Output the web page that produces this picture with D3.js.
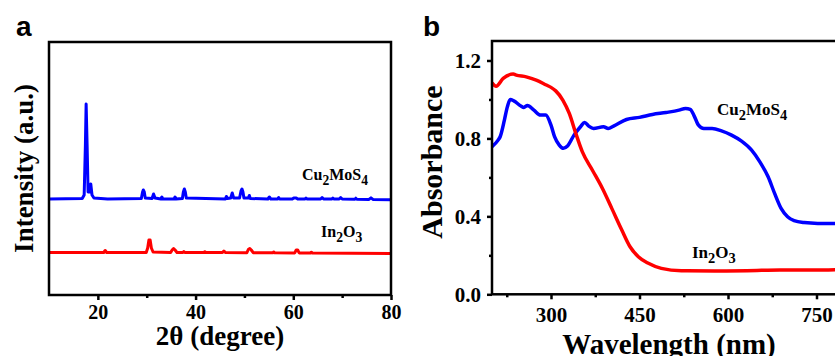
<!DOCTYPE html>
<html>
<head>
<meta charset="utf-8">
<script src="https://cdnjs.cloudflare.com/ajax/libs/d3/7.8.5/d3.min.js"></script>
<style>
body{margin:0;background:#fff;overflow:hidden;}
text{font-family:"Liberation Serif","Times New Roman",serif;font-weight:bold;fill:#000;}
.tick line{stroke:#000;stroke-width:2.5;}
</style>
</head>
<body>
<div id="chart"></div>
<script>
// panel a - XRD patterns, [2theta, intensity a.u.] (offset traces)
var xrd_cu2mos4 = [[10,96],[16.8,96.5],[17.2,100],[17.45,150],[17.6,191],[17.8,150],[18.0,103],[18.3,103],
  [18.55,111],[18.8,100],[19.2,97],[22,96],[28.9,96.5],[29.15,103],[29.3,105],[29.5,103],[29.7,97],
  [31.1,96.5],[31.4,101],[31.7,97],[32.9,96],[33.1,98],[33.3,96],[35.6,96],[35.8,98],[36,96],
  [37.3,96.5],[37.5,103],[37.7,106],[37.9,103],[38.1,97],[46.1,96],[46.3,98.5],[46.5,96.5],
  [47.2,97],[47.5,102],[47.8,97],[49.0,97],[49.3,104],[49.5,106],[49.7,103],[49.9,97],
  [50.8,97],[51.0,99.5],[51.2,96.5],[54.8,96],[55.1,98],[55.4,96],[56.8,96],[57.0,97.5],[57.2,96],
  [59.8,96],[60.1,97],[60.6,97],[60.9,96],[62.4,96],[62.6,97],[62.8,96],[65.6,96],[65.9,97.5],
  [66.2,96],[67.9,96],[68.1,97],[68.3,96],[69.4,96],[69.7,97.5],[70,96],[72.6,95.8],[72.8,96.8],
  [73,95.8],[75.5,95.6],[75.9,97.2],[76.3,95.6],[80,95.3]];
var xrd_in2o3 = [[10,42.5],[21.2,42.5],[21.5,44.5],[21.8,42.5],[29.9,42.5],[30.2,47],[30.45,55],
  [30.7,55],[30.95,47],[31.3,43],[34.9,42.5],[35.2,45],[35.5,46.5],[35.8,45],[36.2,42.5],
  [37.4,42.5],[37.6,43.5],[37.8,42.5],[41.7,42.4],[41.9,43.3],[42.1,42.4],[45.5,42.4],[45.8,44],
  [46.1,42.4],[50.5,42.3],[50.8,45.5],[51.1,46.5],[51.4,45],[51.8,42.3],[55.8,42.2],[56,43],
  [56.2,42.2],[60.3,42.1],[60.6,45],[60.9,45],[61.2,42.1],[63.5,42],[63.7,42.8],[63.9,42],[80,41.5]];
var xrd_ticks = [20,40,60,80];
var xrd_minor = [30,50,70];

// panel b - UV-vis absorbance, [wavelength nm, absorbance]
var uv_cu2mos4 = [[200,0.757],[210,0.79],[214,0.81],[221,0.894],[226,0.962],[231,1.0],[237,0.993],
  [249,0.966],[254,0.959],[260,0.969],[271,0.945],[282,0.92],[291,0.92],[300,0.868],[306,0.809],
  [314,0.766],[321,0.749],[328,0.761],[339,0.817],[350,0.86],[357,0.882],[364,0.863],[372,0.851],
  [389,0.86],[397,0.851],[406,0.863],[428,0.897],[450,0.908],[472,0.923],[495,0.933],[517,0.945],
  [528,0.954],[536,0.949],[542,0.92],[550,0.868],[559,0.851],[573,0.851],[589,0.839],[606,0.817],
  [623,0.786],[640,0.74],[654,0.68],[668,0.603],[679,0.518],[690,0.441],[701,0.398],[712,0.378],
  [729,0.368],[752,0.364],[774,0.364],[800,0.364]];
var uv_in2o3 = [[200,1.085],[207,1.068],[219,1.108],[236,1.13],[241,1.125],[258,1.116],[275,1.099],
  [292,1.074],[300,1.062],[308,1.044],[320,0.997],[331,0.928],[342,0.826],[353,0.732],[370,0.638],
  [387,0.544],[403,0.441],[420,0.33],[434,0.244],[448,0.193],[465,0.159],[487,0.133],[521,0.121],
  [577,0.12],[632,0.121],[688,0.125],[744,0.125],[800,0.128]];
var uv_xticks = [300,450,600,750];
var uv_xminor = [225,375,525,675];
var uv_yticks = [0.0,0.4,0.8,1.2];
var uv_yminor = [0.2,0.6,1.0];

var svg = d3.select("#chart").append("svg").attr("width", 835).attr("height", 356);

// series label with subscripts, parts = [[text, isSub], ...]
function chemLabel(g, x, y, parts, size){
  var t = g.append("text").attr("x", x).attr("y", y).style("font-size", size + "px");
  var lastSub = false;
  parts.forEach(function(p){
    var dy = 0;
    if (p[1] && !lastSub){ dy = size * 0.3; }
    else if (!p[1] && lastSub){ dy = -size * 0.3; }
    t.append("tspan").attr("dy", dy).style("font-size", (p[1] ? size * 0.85 : size) + "px").text(p[0]);
    lastSub = p[1];
  });
}

//---------------- panel a ----------------
var a = {left: 49, right: 391, top: 42, bottom: 295};
var xa = d3.scaleLinear().domain([10, 80]).range([a.left, a.right]);
var ya = d3.scaleLinear().domain([0, 253]).range([a.bottom, a.top]);
var ga = svg.append("g");

var lineA = d3.line().x(function(d){return xa(d[0]);}).y(function(d){return ya(d[1]);});
ga.append("path").datum(xrd_in2o3).attr("d", lineA)
  .attr("fill", "none").attr("stroke", "#ff0000").attr("stroke-width", 3).attr("stroke-linejoin", "round");
ga.append("path").datum(xrd_cu2mos4).attr("d", lineA)
  .attr("fill", "none").attr("stroke", "#0000ff").attr("stroke-width", 3).attr("stroke-linejoin", "round");

var axA = ga.append("g").attr("transform", "translate(0," + a.bottom + ")")
  .call(d3.axisBottom(xa).tickValues(xrd_ticks).tickSize(5).tickSizeOuter(0).tickPadding(5));
axA.select(".domain").remove();
axA.selectAll("text").style("font-size", "20px").style("font-family", null);
var axAm = ga.append("g").attr("transform", "translate(0," + a.bottom + ")")
  .call(d3.axisBottom(xa).tickValues(xrd_minor).tickSize(3).tickFormat(""));
axAm.select(".domain").remove();

ga.append("rect").attr("x", a.left).attr("y", a.top)
  .attr("width", a.right - a.left).attr("height", a.bottom - a.top)
  .attr("fill", "none").attr("stroke", "#000").attr("stroke-width", 2.5);

ga.append("text").attr("x", (a.left + a.right) / 2).attr("y", 345)
  .attr("text-anchor", "middle").style("font-size", "27px").text("2\u03b8 (degree)");
ga.append("text").attr("transform", "translate(33," + (a.top + a.bottom) / 2 + ") rotate(-90)")
  .attr("text-anchor", "middle").style("font-size", "27px").text("Intensity (a.u.)");

chemLabel(ga, 302, 180, [["Cu", false], ["2", true], ["MoS", false], ["4", true]], 16);
chemLabel(ga, 321, 237, [["In", false], ["2", true], ["O", false], ["3", true]], 16);

ga.append("text").attr("x", 16).attr("y", 36)
  .style("font-family", "Liberation Sans, Arial, sans-serif").style("font-size", "28px").text("a");

//---------------- panel b ----------------
var b = {left: 492, right: 846, top: 41, bottom: 294.3};
var xb = d3.scaleLinear().domain([200, 800]).range([b.left, b.right]);
var yb = d3.scaleLinear().domain([0, 1.3]).range([b.bottom, b.top]);
var gb = svg.append("g");

var lineB = d3.line().curve(d3.curveMonotoneX)
  .x(function(d){return xb(d[0]);}).y(function(d){return yb(d[1]);});
gb.append("path").datum(uv_cu2mos4).attr("d", lineB)
  .attr("fill", "none").attr("stroke", "#0000ff").attr("stroke-width", 3.5).attr("stroke-linejoin", "round");
gb.append("path").datum(uv_in2o3).attr("d", lineB)
  .attr("fill", "none").attr("stroke", "#ff0000").attr("stroke-width", 3.5).attr("stroke-linejoin", "round");

var axBx = gb.append("g").attr("transform", "translate(0," + b.bottom + ")")
  .call(d3.axisBottom(xb).tickValues(uv_xticks).tickSize(5).tickSizeOuter(0).tickPadding(7.5));
axBx.select(".domain").remove();
axBx.selectAll("text").style("font-size", "21px").style("font-family", null);
var axBxm = gb.append("g").attr("transform", "translate(0," + b.bottom + ")")
  .call(d3.axisBottom(xb).tickValues(uv_xminor).tickSize(3).tickFormat(""));
axBxm.select(".domain").remove();

var axBy = gb.append("g").attr("transform", "translate(" + b.left + ",0)")
  .call(d3.axisLeft(yb).tickValues(uv_yticks).tickSize(5).tickSizeOuter(0).tickPadding(6).tickFormat(d3.format(".1f")));
axBy.select(".domain").remove();
axBy.selectAll("text").style("font-size", "21px").style("font-family", null);
var axBym = gb.append("g").attr("transform", "translate(" + b.left + ",0)")
  .call(d3.axisLeft(yb).tickValues(uv_yminor).tickSize(3).tickFormat(""));
axBym.select(".domain").remove();

gb.append("rect").attr("x", b.left).attr("y", b.top)
  .attr("width", b.right - b.left).attr("height", b.bottom - b.top)
  .attr("fill", "none").attr("stroke", "#000").attr("stroke-width", 2.5);

gb.append("text").attr("x", (b.left + b.right) / 2).attr("y", 354)
  .attr("text-anchor", "middle").style("font-size", "29px").text("Wavelength (nm)");
gb.append("text").attr("transform", "translate(442,162) rotate(-90)")
  .attr("text-anchor", "middle").style("font-size", "30px").text("Absorbance");

chemLabel(gb, 717, 115, [["Cu", false], ["2", true], ["MoS", false], ["4", true]], 17);
chemLabel(gb, 692, 258, [["In", false], ["2", true], ["O", false], ["3", true]], 17);

gb.append("text").attr("x", 423).attr("y", 36)
  .style("font-family", "Liberation Sans, Arial, sans-serif").style("font-size", "28px").text("b");
</script>
</body>
</html>
